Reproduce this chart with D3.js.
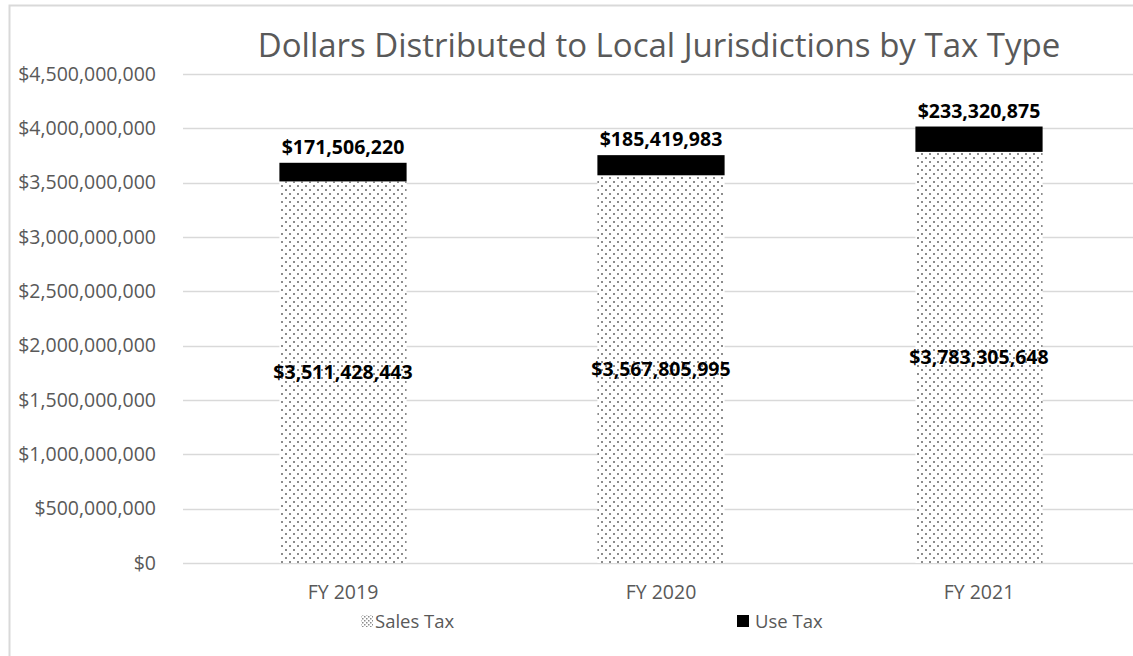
<!DOCTYPE html>
<html>
<head>
<meta charset="utf-8">
<script src="https://cdn.jsdelivr.net/npm/d3@7/dist/d3.min.js"></script>
<style>
  html, body { margin: 0; padding: 0; background: #fff; }
  svg { display: block; font-family: "Open Sans", sans-serif; }
</style>
</head>
<body>
<svg id="chart" width="1133" height="656"></svg>
<script>
// Fiscal years and the two stacked series
const categories = ["FY 2019", "FY 2020", "FY 2021"];
const salesTax = [3511428443, 3567805995, 3783305648];
const useTax = [171506220, 185419983, 233320875];
const yTicks = [0, 500000000, 1000000000, 1500000000, 2000000000, 2500000000, 3000000000, 3500000000, 4000000000, 4500000000];
const seriesNames = ["Sales Tax", "Use Tax"];

const FONT = "'Open Sans', sans-serif";
const svg = d3.select("#chart");

// Dotted fill used for the sales-tax segments
const defs = svg.append("defs");
const pat = defs.append("pattern")
  .attr("id", "dots").attr("patternUnits", "userSpaceOnUse")
  .attr("width", 8).attr("height", 8);
pat.append("rect").attr("width", 8).attr("height", 8).attr("fill", "#fff");
pat.append("rect").attr("x", 1).attr("y", 1).attr("width", 2).attr("height", 2).attr("fill", "#8c8c8c");
pat.append("rect").attr("x", 5).attr("y", 5).attr("width", 2).attr("height", 2).attr("fill", "#8c8c8c");

// Chart frame
svg.append("rect")
  .attr("x", 9.5).attr("y", 5.5).attr("width", 1200).attr("height", 700)
  .attr("fill", "none").attr("stroke", "#d9d9d9").attr("stroke-width", 2);

const plot = { left: 184, right: 1138, top: 74, bottom: 563 };

const x = d3.scaleBand().domain(categories).range([plot.left, plot.right]).paddingInner(0.6).paddingOuter(0.3);
const y = d3.scaleLinear().domain([0, 4500000000]).range([plot.bottom, plot.top]);

const fmt = d3.format("$,");

// Gridlines
svg.append("g").selectAll("line").data(yTicks).join("line")
  .attr("x1", plot.left - 1).attr("x2", 1133)
  .attr("y1", d => Math.round(y(d)) + 0.5).attr("y2", d => Math.round(y(d)) + 0.5)
  .attr("stroke", "#d9d9d9").attr("stroke-width", 1.5);

// Y axis labels
const yAxis = d3.axisLeft(y).tickValues(yTicks).tickFormat(fmt).tickSize(0).tickPadding(0);
const yg = svg.append("g").attr("transform", `translate(156,0)`).call(yAxis);
yg.select(".domain").remove();
yg.selectAll("text").attr("font-size", 19.5).attr("fill", "#595959").attr("font-family", FONT);

// X axis labels
const xAxis = d3.axisBottom(x).tickSize(0).tickPadding(0);
const xg = svg.append("g").attr("transform", `translate(0,${plot.bottom + 22})`).call(xAxis);
xg.select(".domain").remove();
xg.selectAll("text").attr("font-size", 19.5).attr("fill", "#595959").attr("font-family", FONT);

// Stacked data
const rows = categories.map((c, i) => ({ cat: c, sales: salesTax[i], use: useTax[i] }));

// Sales tax bars
svg.append("g").selectAll("rect").data(rows).join("rect")
  .attr("x", d => x(d.cat)).attr("width", x.bandwidth())
  .attr("y", d => y(d.sales)).attr("height", d => y(0) - y(d.sales))
  .attr("fill", "url(#dots)");

// Use tax bars
svg.append("g").selectAll("rect").data(rows).join("rect")
  .attr("x", d => x(d.cat)).attr("width", x.bandwidth())
  .attr("y", d => y(d.sales + d.use)).attr("height", d => y(d.sales) - y(d.sales + d.use))
  .attr("fill", "#000");

// Value labels
svg.append("g").selectAll("text").data(rows).join("text")
  .attr("x", d => x(d.cat) + x.bandwidth() / 2)
  .attr("y", d => (y(0) + y(d.sales)) / 2 + 7)
  .attr("text-anchor", "middle").attr("font-size", 19.5).attr("font-weight", "bold").attr("fill", "#000")
  .text(d => fmt(d.sales));

svg.append("g").selectAll("text").data(rows).join("text")
  .attr("x", d => x(d.cat) + x.bandwidth() / 2)
  .attr("y", d => y(d.sales + d.use) - 9)
  .attr("text-anchor", "middle").attr("font-size", 19.5).attr("font-weight", "bold").attr("fill", "#000")
  .text(d => fmt(d.use));

// Title
svg.append("text")
  .attr("x", 659).attr("y", 57)
  .attr("text-anchor", "middle").attr("font-size", 33).attr("fill", "#595959")
  .text("Dollars Distributed to Local Jurisdictions by Tax Type");

// Legend
const legend = [
  { name: seriesNames[0], fill: "url(#legdots)", mx: 361, tx: 375 },
  { name: seriesNames[1], fill: "#000", mx: 737, tx: 755 }
];
const lp = defs.append("pattern")
  .attr("id", "legdots").attr("patternUnits", "userSpaceOnUse")
  .attr("width", 4).attr("height", 4);
lp.append("rect").attr("width", 4).attr("height", 4).attr("fill", "#fff");
lp.append("rect").attr("x", 0).attr("y", 0).attr("width", 1.5).attr("height", 1.5).attr("fill", "#8c8c8c");
lp.append("rect").attr("x", 2).attr("y", 2).attr("width", 1.5).attr("height", 1.5).attr("fill", "#8c8c8c");

const lg = svg.append("g").selectAll("g").data(legend).join("g");
lg.append("rect")
  .attr("x", d => d.mx).attr("y", 615).attr("width", 12).attr("height", 12)
  .attr("fill", d => d.fill);
lg.append("text")
  .attr("x", d => d.tx).attr("y", 628)
  .attr("font-size", 18.5).attr("fill", "#595959").attr("font-family", FONT)
  .text(d => d.name);
</script>
</body>
</html>
